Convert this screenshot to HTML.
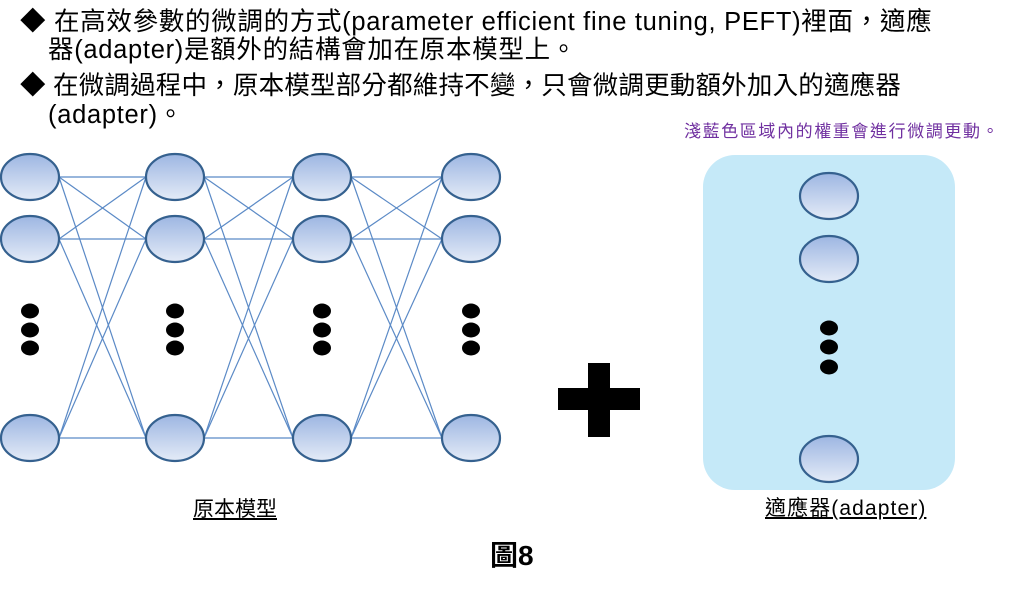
<!DOCTYPE html>
<html><head><meta charset="utf-8"><style>
body{margin:0;width:1024px;height:595px;background:#fff;position:relative;overflow:hidden;font-family:"Liberation Sans","Noto Sans CJK TC",sans-serif;}
.t{position:absolute;white-space:nowrap;font-size:25.5px;line-height:30px;color:#000;}
</style></head><body>
<div class="t" style="left:20px;top:7px;letter-spacing:0.7px">◆ 在高效參數的微調的方式(parameter efficient fine tuning, PEFT)裡面，適應</div>
<div class="t" style="left:48px;top:35px;letter-spacing:0.7px">器(adapter)是額外的結構會加在原本模型上。</div>
<div class="t" style="left:20px;top:71px;letter-spacing:0.2px">◆ 在微調過程中，原本模型部分都維持不變，只會微調更動額外加入的適應器</div>
<div class="t" style="left:48px;top:100px;letter-spacing:0.7px">(adapter)。</div>
<div class="t" style="left:684px;top:117px;font-size:17px;color:#7030a0;letter-spacing:1.6px">淺藍色區域內的權重會進行微調更動。</div>
<svg width="1024" height="595" style="position:absolute;left:0;top:0">
<defs><linearGradient id="g" x1="0" y1="0" x2="0" y2="1"><stop offset="0" stop-color="#9db6e2"/><stop offset="1" stop-color="#e4ebf7"/></linearGradient></defs>
<rect x="703" y="155" width="252" height="335" rx="32" fill="#c5e9f8"/>
<g stroke="#5b8ac6" stroke-width="1.2" id="L"></g>
<g id="N" fill="url(#g)" stroke="#35618f" stroke-width="2.2"></g>
<g id="D" fill="#000"></g>
<rect x="588" y="363" width="22" height="74" fill="#000"/>
<rect x="558" y="388" width="82" height="22" fill="#000"/>
</svg>
<div class="t" style="left:193px;top:495px;font-size:21px;text-decoration:underline">原本模型</div>
<div class="t" style="left:765px;top:494px;font-size:21px;letter-spacing:1.1px;text-decoration:underline">適應器(adapter)</div>
<div class="t" style="left:490px;top:541px;font-size:28px;font-weight:bold">圖8</div>
<script>
var ns="http://www.w3.org/2000/svg";
var cols=[30,175,322,471],rows=[177,239,438];
var L=document.getElementById('L'),N=document.getElementById('N'),D=document.getElementById('D');
function el(p,t,a){var e=document.createElementNS(ns,t);for(var k in a)e.setAttribute(k,a[k]);p.appendChild(e);}
for(var c=0;c<3;c++)for(var i=0;i<3;i++)for(var j=0;j<3;j++)el(L,'line',{x1:cols[c]+29,y1:rows[i],x2:cols[c+1]-29,y2:rows[j]});
cols.forEach(function(x){rows.forEach(function(y){el(N,'ellipse',{cx:x,cy:y,rx:29,ry:23});});
[311,330,348].forEach(function(y){el(D,'ellipse',{cx:x,cy:y,rx:9,ry:7.5});});});
[196,259,459].forEach(function(y){el(N,'ellipse',{cx:829,cy:y,rx:29,ry:23});});
[328,347,367].forEach(function(y){el(D,'ellipse',{cx:829,cy:y,rx:9,ry:7.5});});
</script>
</body></html>
